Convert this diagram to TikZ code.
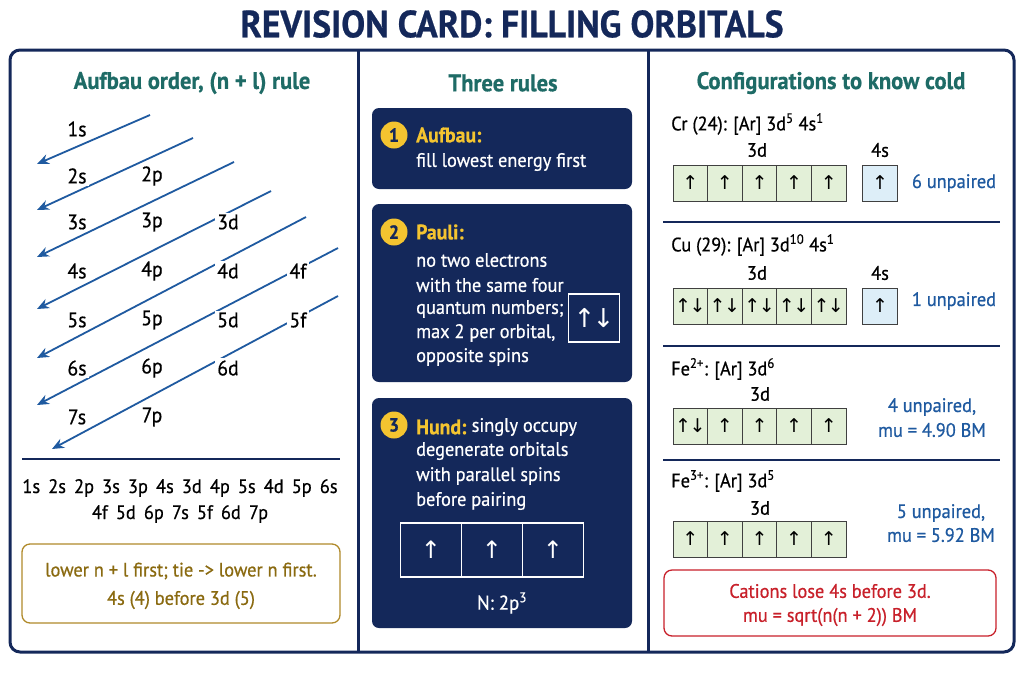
\documentclass[tikz,border=0pt]{standalone}
\usepackage{fontspec}
\setmainfont{PT Sans}[FakeStretch=0.94,FakeBold=0.6]
\newfontfamily\arr{DejaVu Sans}
\usetikzlibrary{arrows.meta}
\definecolor{navy}{HTML}{14285A}
\definecolor{teal}{HTML}{1E6B66}
\definecolor{gold}{HTML}{B08A2A}
\definecolor{goldtxt}{HTML}{8A6A10}
\definecolor{ablue}{HTML}{1F5AA0}
\definecolor{ylw}{HTML}{F4C430}
\definecolor{gcell}{HTML}{E3F0D8}
\definecolor{bcell}{HTML}{DDEEF8}
\definecolor{rd}{HTML}{C8202A}
\tikzset{
 x=1pt,y=-1pt,
 head/.style={font=\fontsize{24}{26}\selectfont\bfseries,text=teal},
 lbl/.style={font=\fontsize{21}{23}\selectfont,fill=white,inner sep=2pt},
 txt/.style={font=\fontsize{19.5}{21}\selectfont,inner sep=0pt},
 wtxt/.style={txt,text=white,anchor=west},
 rule/.style={font=\fontsize{21}{23}\selectfont\bfseries,text=ylw,anchor=west,inner sep=0pt},
 num/.style={circle,fill=ylw,text=navy,minimum size=27pt,inner sep=0pt,font=\fontsize{19}{21}\selectfont\bfseries},
 navybox/.style={fill=navy,rounded corners=7pt},
 diag/.style={draw=ablue,line width=1.8pt,-{Stealth[length=12pt,width=10pt]}},
 cellg/.style={draw=black!75,fill=gcell,line width=0.8pt,minimum width=34.6pt,minimum height=36pt,inner sep=0pt,font=\arr\fontsize{19}{21}\selectfont},
 cellb/.style={cellg,fill=bcell},
 sep/.style={draw=navy,line width=1.2pt},
 unp/.style={txt,text=ablue},
}
\begin{document}
\begin{tikzpicture}
\useasboundingbox (0,0) rectangle (1024,683);
\fill[white] (0,0) rectangle (1024,683);
\node[font=\fontsize{38}{40}\selectfont\bfseries,text=navy] (title) at (512,24) {REVISION CARD: FILLING ORBITALS};
\draw[navy,line width=3pt,rounded corners=10pt] (10,50) rectangle (1014,652);
\draw[navy,line width=3pt] (358,50) -- (358,652) (648,50) -- (648,652);
% left
\node[head] (hl) at (192,83) {Aufbau order, (n + l) rule};
\coordinate (a1s) at (150,115); \coordinate (a1e) at (37,164);
\coordinate (a2s) at (193,138); \coordinate (a2e) at (37,210);
\coordinate (a3s) at (234,162); \coordinate (a3e) at (37,257);
\coordinate (a4s) at (271,191); \coordinate (a4e) at (37,309);
\coordinate (a5s) at (306,217); \coordinate (a5e) at (37,358);
\coordinate (a6s) at (338,248); \coordinate (a6e) at (37,405);
\coordinate (a7s) at (338,296); \coordinate (a7e) at (52,449);
\foreach \i in {1,...,7}{\draw[diag] (a\i s) -- (a\i e);}
\foreach \n/\y in {1/129,2/176,3/222,4/271,5/320,6/368,7/417}{\node[lbl] (s\n) at (77,\y) {\n s};}
\foreach \n/\y in {2/176,3/222,4/271,5/320,6/368,7/417}{\node[lbl] (p\n) at (152,\y) {\n p};}
\foreach \n/\y in {3/222,4/271,5/320,6/368}{\node[lbl] (d\n) at (228,\y) {\n d};}
\foreach \n/\y in {4/271,5/320}{\node[lbl] (f\n) at (298,\y) {\n f};}
\draw[sep] (22,459) -- (340,459);
\node[txt] (seq1) at (180,488) {1s\, 2s\, 2p\, 3s\, 3p\, 4s\, 3d\, 4p\, 5s\, 4d\, 5p\, 6s};
\node[txt] (seq2) at (180,514) {4f\, 5d\, 6p\, 7s\, 5f\, 6d\, 7p};
\draw[gold,line width=1.3pt,rounded corners=8pt] (22,544) rectangle (340,623);
\node[txt,text=goldtxt] (g1) at (181,571) {lower n + l first; tie -> lower n first.};
\node[txt,text=goldtxt] (g2) at (181,600) {4s (4) before 3d (5)};
% middle
\node[head] (hm) at (503,83) {Three rules};
\fill[navybox] (372,108) rectangle (632,189);
\fill[navybox] (372,204) rectangle (632,382);
\fill[navybox] (372,398) rectangle (632,628);
\node[num] (n1) at (394,135) {1};
\node[rule] (r1) at (416,135) {Aufbau:};
\node[wtxt] (t1) at (416,162) {fill lowest energy first};
\node[num] (n2) at (394,232) {2};
\node[rule] (r2) at (416,232) {Pauli:};
\foreach \t/\y in {no two electrons/260,with the same four/285,quantum numbers;/309,{max 2 per orbital,}/333,opposite spins/357}{\node[wtxt] at (416,\y) {\t};}
\node[draw=white,line width=1.2pt,minimum width=51pt,minimum height=48pt,text=white,font=\arr\fontsize{26}{28}\selectfont,inner sep=0pt] (pb) at (594,318) {↑\kern-3pt↓};
\node[num] (n3) at (394,425) {3};
\node[rule] (r3) at (416,427) {Hund:};
\node[wtxt] (t3) at (r3.east) {\ singly occupy};
\foreach \t/\y in {degenerate orbitals/451,with parallel spins/476,before pairing/501}{\node[wtxt] at (416,\y) {\t};}
\foreach \i/\x in {1/431,2/492,3/553}{\node[draw=white,line width=1.2pt,minimum width=61pt,minimum height=54pt,text=white,font=\arr\fontsize{24}{26}\selectfont] (h\i) at (\x,550) {↑};}
\node[txt,text=white,font=\fontsize{20}{22}\selectfont] (nn) at (502,603) {N: 2p\textsuperscript{3}};
% right
\node[head] (hr) at (831,83) {Configurations to know cold};
\newcommand\cellrow[4]{%
 \foreach \c [count=\k] in {#2}{\node[cellg] (#3\k) at ({673+17.3+34.6*(\k-1)},#1) {\c};}}
% Cr
\node[txt,anchor=west] (cr) at (671,124) {Cr (24): [Ar] 3d\textsuperscript{5} 4s\textsuperscript{1}};
\node[txt] at (757,150) {3d}; \node[txt] at (880,150) {4s};
\cellrow{183}{↑,↑,↑,↑,↑}{cr}{}
\node[cellb] (crs) at (880,183) {↑};
\node[unp] (u1) at (954,183) {6 unpaired};
\draw[sep] (663,222) -- (1000,222);
% Cu
\node[txt,anchor=west] (cu) at (671,245) {Cu (29): [Ar] 3d\textsuperscript{10} 4s\textsuperscript{1}};
\node[txt] at (757,273) {3d}; \node[txt] at (880,273) {4s};
\cellrow{306}{↑\kern-1.5pt↓,↑\kern-1.5pt↓,↑\kern-1.5pt↓,↑\kern-1.5pt↓,↑\kern-1.5pt↓}{cu}{}
\node[cellb] (cus) at (880,306) {↑};
\node[unp] (u2) at (954,301) {1 unpaired};
\draw[sep] (663,346) -- (1000,346);
% Fe2+
\node[txt,anchor=west] (fe2) at (671,369) {Fe\textsuperscript{2+}: [Ar] 3d\textsuperscript{6}};
\node[txt] at (760,394) {3d};
\cellrow{426}{↑\kern-1.5pt↓,↑,↑,↑,↑}{fa}{}
\node[unp] (u3) at (932,407) {4 unpaired,};
\node[unp] (m3) at (932,430) {mu = 4.90 BM};
\draw[sep] (663,460) -- (1000,460);
% Fe3+
\node[txt,anchor=west] (fe3) at (671,481) {Fe\textsuperscript{3+}: [Ar] 3d\textsuperscript{5}};
\node[txt] at (760,508) {3d};
\cellrow{539}{↑,↑,↑,↑,↑}{fb}{}
\node[unp] (u4) at (941,513) {5 unpaired,};
\node[unp] (m4) at (941,535) {mu = 5.92 BM};
\draw[rd,line width=1.3pt,rounded corners=8pt] (664,570) rectangle (996,636);
\node[txt,text=rd] (c1) at (830,591) {Cations lose 4s before 3d.};
\node[txt,text=rd] (c2) at (830,617) {mu = sqrt(n(n + 2)) BM};
\end{tikzpicture}
\end{document}
